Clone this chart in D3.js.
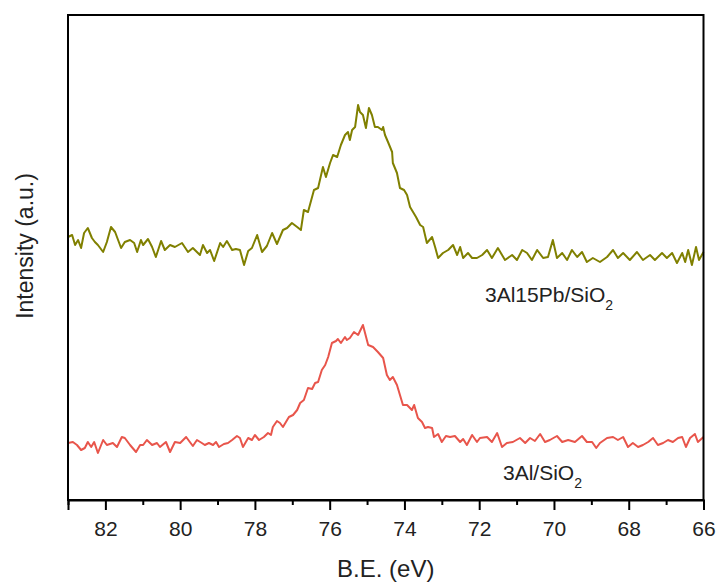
<!DOCTYPE html>
<html>
<head>
<meta charset="utf-8">
<script src="https://cdn.jsdelivr.net/npm/d3@7"></script>
<style>
  html, body { margin: 0; padding: 0; background: #fff; }
  svg { display: block; font-family: Arial, "Liberation Sans", sans-serif; }
</style>
</head>
<body>
<svg id="chart" width="719" height="586"></svg>
<script>
// ---------- DATA ----------
const xMajorTicks = [82, 80, 78, 76, 74, 72, 70, 68, 66];
const xMinorTicks = [83, 81, 79, 77, 75, 73, 71, 69, 67];
const seriesNames = ["3Al15Pb/SiO2", "3Al/SiO2"];

// 3Al15Pb/SiO2 (olive)
const energyPb = [
  83.00, 82.89, 82.81, 82.73, 82.65, 82.57, 82.47, 82.36, 82.28, 82.20,
  82.06, 81.96, 81.85, 81.74, 81.58, 81.48, 81.34, 81.23, 81.15, 81.05,
  80.99, 80.86, 80.75, 80.65, 80.51, 80.41, 80.27, 80.14, 79.95, 79.79,
  79.66, 79.47, 79.39, 79.28, 79.20, 79.09, 78.93, 78.85, 78.75, 78.61,
  78.51, 78.40, 78.29, 78.18, 78.08, 77.94, 77.81, 77.68, 77.54, 77.41,
  77.25, 77.14, 77.01, 76.87, 76.77, 76.69, 76.58, 76.42, 76.31, 76.18,
  76.10, 75.99, 75.91, 75.80, 75.70, 75.59, 75.51, 75.46, 75.40, 75.32,
  75.24, 75.19, 75.11, 75.03, 74.95, 74.87, 74.79, 74.71, 74.60, 74.57,
  74.52, 74.44, 74.33, 74.31, 74.20, 74.12, 74.01, 73.93, 73.85, 73.77,
  73.69, 73.58, 73.50, 73.40, 73.26, 73.18, 73.10, 72.97, 72.83, 72.70,
  72.59, 72.51, 72.43, 72.30, 72.19, 72.06, 71.92, 71.79, 71.66, 71.50,
  71.31, 71.12, 70.99, 70.85, 70.72, 70.59, 70.45, 70.29, 70.16, 70.03,
  69.92, 69.78, 69.65, 69.52, 69.38, 69.25, 69.12, 68.96, 68.77, 68.58,
  68.42, 68.29, 68.15, 67.97, 67.78, 67.62, 67.43, 67.30, 67.11, 66.98,
  66.84, 66.71, 66.57, 66.49, 66.41, 66.31, 66.20, 66.12, 66.00
];
const intensityPb = [
  263, 265, 255, 260, 252, 267, 272, 262, 258, 255,
  248, 258, 273, 268, 252, 258, 260, 257, 248, 260,
  255, 261, 253, 243, 259, 250, 255, 253, 257, 248,
  252, 245, 255, 247, 250, 239, 257, 253, 259, 250,
  251, 250, 235, 249, 252, 265, 248, 254, 267, 256,
  270, 272, 277, 273, 270, 290, 288, 310, 312, 333,
  323, 337, 345, 343, 355, 365, 368, 360, 370, 373,
  395, 388, 385, 372, 392, 385, 373, 373, 370, 373,
  365, 358, 348, 337, 327, 312, 310, 305, 293, 288,
  283, 275, 273, 257, 263, 253, 242, 247, 250, 255,
  245, 253, 242, 247, 242, 242, 245, 250, 242, 252,
  240, 245, 240, 250, 247, 240, 250, 242, 243, 260,
  242, 247, 240, 250, 243, 248, 238, 242, 238, 243,
  250, 242, 247, 240, 248, 240, 245, 240, 247, 242,
  247, 237, 247, 238, 250, 235, 253, 240, 248
];

// 3Al/SiO2 (red)
const energyAl = [
  83.00, 82.87, 82.76, 82.65, 82.55, 82.47, 82.38, 82.30, 82.20, 82.06,
  81.96, 81.80, 81.69, 81.56, 81.48, 81.34, 81.18, 81.07, 80.99, 80.89,
  80.75, 80.62, 80.54, 80.38, 80.27, 80.14, 80.00, 79.84, 79.74, 79.66,
  79.55, 79.42, 79.34, 79.23, 79.12, 79.04, 78.96, 78.83, 78.72, 78.61,
  78.48, 78.40, 78.32, 78.18, 78.08, 78.00, 77.89, 77.76, 77.65, 77.57,
  77.52, 77.41, 77.33, 77.25, 77.09, 76.98, 76.87, 76.79, 76.69, 76.58,
  76.47, 76.39, 76.31, 76.21, 76.12, 76.04, 75.94, 75.83, 75.78, 75.70,
  75.59, 75.54, 75.46, 75.35, 75.24, 75.11, 74.97, 74.84, 74.71, 74.57,
  74.47, 74.39, 74.31, 74.20, 74.12, 74.04, 73.93, 73.80, 73.74, 73.64,
  73.53, 73.45, 73.37, 73.26, 73.21, 73.10, 73.00, 72.89, 72.78, 72.65,
  72.51, 72.43, 72.33, 72.19, 72.06, 71.98, 71.79, 71.66, 71.52, 71.39,
  71.26, 71.10, 70.91, 70.77, 70.64, 70.51, 70.37, 70.24, 70.11, 69.92,
  69.78, 69.62, 69.44, 69.25, 69.12, 68.98, 68.87, 68.77, 68.58, 68.42,
  68.29, 68.15, 68.02, 67.89, 67.75, 67.62, 67.48, 67.35, 67.22, 67.08,
  66.95, 66.82, 66.68, 66.57, 66.47, 66.36, 66.23, 66.15, 66.00
];
const intensityAl = [
  57, 58, 55, 50, 52, 58, 53, 58, 47, 60,
  55, 57, 53, 63, 62, 55, 48, 55, 55, 60,
  55, 57, 53, 58, 48, 58, 57, 63, 58, 54,
  60, 57, 55, 57, 55, 58, 53, 56, 57, 60,
  64, 62, 53, 62, 60, 65, 60, 63, 67, 65,
  73, 79, 77, 73, 83, 85, 90, 97, 100, 112,
  111, 117, 118, 130, 135, 143, 157, 159, 161, 157,
  163, 160, 162, 168, 165, 175, 155, 153, 148, 142,
  125, 120, 123, 115, 105, 95, 95, 90, 95, 82,
  78, 72, 73, 72, 63, 66, 58, 64, 63, 64,
  58, 61, 55, 65, 58, 62, 63, 58, 67, 53,
  57, 58, 62, 57, 62, 59, 66, 58, 60, 64,
  58, 60, 58, 64, 58, 58, 52, 57, 62, 63,
  60, 63, 53, 57, 53, 55, 58, 62, 55, 57,
  60, 58, 62, 63, 53, 62, 66, 58, 63
];

const colorPb = "#808000";
const colorAl = "#E8554B";

// ---------- LAYOUT ----------
const svg = d3.select("#chart");
const mLeft = 68, mRight = 703.5, mTop = 15, mBottom = 500;

const x = d3.scaleLinear().domain([83, 66]).range([mLeft, mRight]);
const y = d3.scaleLinear().domain([0, 485]).range([mBottom, mTop]);

const line = d3.line().x(d => x(d[0])).y(d => y(d[1]));

const pb = energyPb.map((e, i) => [e, intensityPb[i]]);
const al = energyAl.map((e, i) => [e, intensityAl[i]]);

svg.append("path").datum(pb)
  .attr("d", line).attr("fill", "none")
  .attr("stroke", colorPb).attr("stroke-width", 2).attr("stroke-linejoin", "round");
svg.append("path").datum(al)
  .attr("d", line).attr("fill", "none")
  .attr("stroke", colorAl).attr("stroke-width", 2).attr("stroke-linejoin", "round");

// frame
svg.append("rect")
  .attr("x", mLeft).attr("y", mTop)
  .attr("width", mRight - mLeft).attr("height", mBottom - mTop)
  .attr("fill", "none").attr("stroke", "#000").attr("stroke-width", 2);

// x axis major
const axMajor = d3.axisBottom(x).tickValues(xMajorTicks).tickSize(10).tickPadding(11)
  .tickFormat(d3.format("d"));
const gMaj = svg.append("g").attr("transform", `translate(0,${mBottom})`).call(axMajor);
gMaj.select(".domain").attr("stroke-width", 2);
gMaj.selectAll(".tick line").attr("stroke-width", 2);
gMaj.selectAll(".tick text").attr("font-size", 21).attr("fill", "#222")
  .attr("font-family", "Arial, 'Liberation Sans', sans-serif");

const axMinor = d3.axisBottom(x).tickValues(xMinorTicks).tickSize(5).tickFormat("");
const gMin = svg.append("g").attr("transform", `translate(0,${mBottom})`).call(axMinor);
gMin.select(".domain").remove();
gMin.selectAll(".tick line").attr("stroke-width", 2);

// axis titles
svg.append("text")
  .attr("x", (mLeft + mRight) / 2).attr("y", 577)
  .attr("text-anchor", "middle").attr("font-size", 24).attr("fill", "#222")
  .text("B.E. (eV)");

svg.append("text")
  .attr("transform", "translate(33,246) rotate(-90)")
  .attr("text-anchor", "middle").attr("font-size", 23).attr("fill", "#222")
  .text("Intensity (a.u.)");

// series labels
function subLabel(tx, ty, main) {
  const t = svg.append("text").attr("x", tx).attr("y", ty)
    .attr("font-size", 21).attr("fill", "#222");
  t.append("tspan").text(main);
  t.append("tspan").attr("dy", 8).attr("font-size", 14).text("2");
}
subLabel(485, 302, "3Al15Pb/SiO");
subLabel(503, 480, "3Al/SiO");
</script>
</body>
</html>
